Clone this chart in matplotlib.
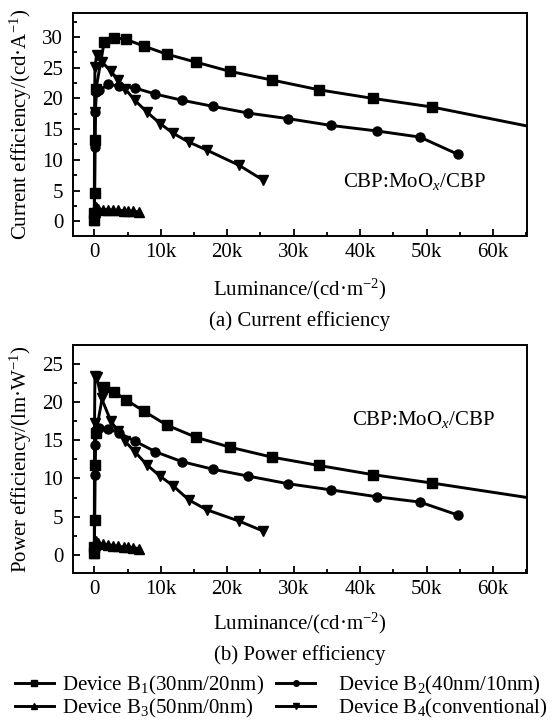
import matplotlib
matplotlib.use('Agg')
import matplotlib.pyplot as plt
from matplotlib.lines import Line2D
from matplotlib.ticker import MultipleLocator

plt.rcParams['font.family'] = ['Liberation Serif', 'DejaVu Serif']
plt.rcParams['mathtext.fontset'] = 'custom'
plt.rcParams['mathtext.rm'] = 'Liberation Serif'
plt.rcParams['mathtext.it'] = 'Liberation Serif:italic'

# luminance (cd/m2) for each device
lum_b1 = [0, 20, 60, 120, 250, 1500, 2900, 4800, 7500, 10900, 15300, 20400, 26700, 33800, 41900, 50800, 67000]
lum_b2 = [0, 30, 80, 150, 300, 750, 2100, 3700, 6100, 9200, 13200, 17900, 23200, 29200, 35600, 42500, 49000, 54700]
lum_b3 = [0, 30, 100, 250, 600, 1350, 2100, 2860, 3600, 4400, 5100, 5900, 6800]
lum_b4 = [0, 40, 100, 350, 1100, 2500, 3600, 4600, 6100, 7900, 9900, 11900, 14200, 16900, 21800, 25400]

# current efficiency (cd/A)
ce_b1 = [0.2, 1.3, 4.6, 13.2, 21.5, 29.2, 29.9, 29.6, 28.5, 27.2, 25.9, 24.4, 23.0, 21.4, 20.0, 18.6, 15.1]
ce_b2 = [0.3, 1.5, 12.1, 17.8, 21.0, 21.3, 22.3, 22.0, 21.7, 20.7, 19.7, 18.7, 17.6, 16.7, 15.6, 14.7, 13.7, 10.9]
ce_b3 = [0.2, 0.8, 1.5, 2.3, 2.0, 1.9, 1.9, 1.8, 1.8, 1.7, 1.7, 1.6, 1.5]
ce_b4 = [0.3, 17.8, 25.1, 27.0, 26.0, 24.4, 23.0, 21.6, 19.7, 17.8, 15.9, 14.3, 12.9, 11.6, 9.1, 6.7]

# power efficiency (lm/W)
pe_b1 = [0.2, 1.0, 4.6, 11.8, 16.0, 22.0, 21.4, 20.3, 18.8, 17.0, 15.4, 14.1, 12.8, 11.7, 10.5, 9.4, 7.25]
pe_b2 = [0.3, 1.2, 10.5, 14.4, 16.3, 16.6, 16.5, 16.0, 14.9, 13.5, 12.2, 11.2, 10.3, 9.3, 8.5, 7.6, 6.9, 5.2]
pe_b3 = [0.2, 0.7, 1.3, 1.8, 1.5, 1.4, 1.3, 1.2, 1.1, 1.0, 1.0, 0.9, 0.8]
pe_b4 = [0.3, 17.3, 23.5, 23.3, 20.5, 17.5, 16.2, 14.9, 13.5, 11.8, 10.3, 9.0, 7.2, 5.9, 4.4, 3.1]

labels = ['Device B$_1$(30nm/20nm)', '   Device B$_2$(40nm/10nm)',
          'Device B$_3$(50nm/0nm)', '   Device B$_4$(conventional)']
markers = ['s', 'o', '^', 'v']
xticks = [0, 10000, 20000, 30000, 40000, 50000, 60000]
xticklabels = ['0', '10k', '20k', '30k', '40k', '50k', '60k']

FS = 15
W, H = 554, 726
fig = plt.figure(figsize=(W / 100, H / 100), dpi=100)


def make_axes(top, bottom):
    ax = fig.add_axes([73 / W, 1 - bottom / H, (527 - 73) / W, (bottom - top) / H])
    for s in ax.spines.values():
        s.set_linewidth(1.4)
    ax.tick_params(which='both', direction='in', top=False, right=False, labelsize=FS, width=1.3)
    ax.tick_params(which='major', length=5)
    ax.tick_params(axis='y', which='major', pad=7)
    ax.tick_params(axis='x', which='major', pad=5)
    ax.tick_params(which='minor', length=3)
    ax.set_xlim(-3200, 65100)
    ax.set_xticks(xticks)
    ax.set_xticklabels(xticklabels)
    ax.xaxis.set_minor_locator(MultipleLocator(5000))
    ax.yaxis.set_minor_locator(MultipleLocator(2.5))
    return ax


def draw(ax, series):
    for (x, y), m in zip(series, markers):
        ax.plot(x, y, color='black', lw=2.1, marker=m, ms=6.5)


ax1 = make_axes(13, 236)
draw(ax1, [(lum_b1, ce_b1), (lum_b2, ce_b2), (lum_b3, ce_b3), (lum_b4, ce_b4)])
ax1.set_ylim(-2.4, 33.9)
ax1.set_yticks([0, 5, 10, 15, 20, 25, 30])
ax1.set_ylabel('Current efficiency/(cd·A$^{-1}$)', fontsize=FS)
ax1.yaxis.set_label_coords(-0.085, 0.5)
ax1.text(37400, 6.4, 'CBP:MoO$_x$/CBP', fontsize=FS, va='center')

ax2 = make_axes(345, 573)
draw(ax2, [(lum_b1, pe_b1), (lum_b2, pe_b2), (lum_b3, pe_b3), (lum_b4, pe_b4)])
ax2.set_ylim(-2.4, 27.5)
ax2.set_yticks([0, 5, 10, 15, 20, 25])
ax2.set_ylabel('Power efficiency/(lm·W$^{-1}$)', fontsize=FS)
ax2.yaxis.set_label_coords(-0.085, 0.5)
ax2.text(38700, 17.7, 'CBP:MoO$_x$/CBP', fontsize=FS, va='center')

cx = (73 + 527) / 2 / W
fig.text(cx, 1 - 289 / H, 'Luminance/(cd·m$^{-2}$)', ha='center', va='center', fontsize=FS)
fig.text(cx, 1 - 321 / H, '(a) Current efficiency', ha='center', va='center', fontsize=FS)
fig.text(cx, 1 - 623 / H, 'Luminance/(cd·m$^{-2}$)', ha='center', va='center', fontsize=FS)
fig.text(cx, 1 - 655 / H, '(b) Power efficiency', ha='center', va='center', fontsize=FS)

handles = [Line2D([], [], color='black', lw=2.1, marker=m, ms=4) for m in markers]
order = [0, 2, 1, 3]
fig.legend([handles[i] for i in order], [labels[i] for i in order],
           loc='center', bbox_to_anchor=(281.5 / W, 1 - 697 / H), ncol=2, frameon=False,
           fontsize=FS, handlelength=1.85, handletextpad=0.4, columnspacing=0.6,
           labelspacing=0.0, borderpad=0)

fig.savefig('out.png', dpi=100)
